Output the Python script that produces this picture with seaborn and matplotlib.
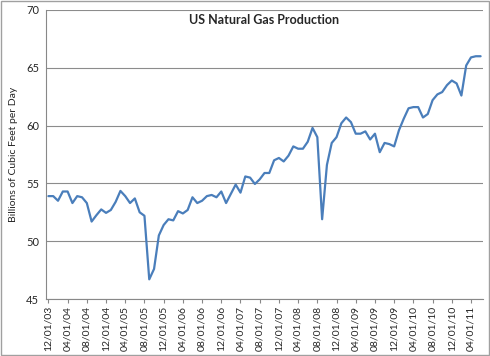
#!/usr/bin/env python3
"""
US Natural Gas Production - monthly line chart (Excel style)
"""

import numpy as np
import pandas as pd
import matplotlib
matplotlib.use("Agg")
import matplotlib.pyplot as plt
from matplotlib.patches import Rectangle
import seaborn as sns

# monthly production, 12/01/03 .. 06/01/11 (billions of cubic feet per day)
production = [
    53.9, 53.9, 53.5, 54.3, 54.3, 53.3, 53.9, 53.8, 53.3, 51.7,
    52.25, 52.75, 52.45, 52.7, 53.4, 54.35, 53.9, 53.3, 53.7, 52.5,
    52.2, 46.7, 47.6, 50.5, 51.4, 51.9, 51.8, 52.6, 52.4, 52.7,
    53.8, 53.3, 53.5, 53.9, 54.0, 53.8, 54.3, 53.3, 54.1, 54.9,
    54.2, 55.6, 55.5, 54.95, 55.35, 55.9, 55.9, 57.0, 57.2, 56.9,
    57.4, 58.2, 58.0, 58.0, 58.6, 59.8, 59.0, 51.9, 56.6, 58.5,
    59.0, 60.2, 60.7, 60.3, 59.3, 59.3, 59.5, 58.8, 59.3, 57.7,
    58.5, 58.4, 58.2, 59.6, 60.6, 61.5, 61.6, 61.6, 60.7, 61.0,
    62.2, 62.7, 62.9, 63.5, 63.9, 63.65, 62.6, 65.2, 65.9, 66.0,
    66.0,
]

tick_labels = [
    "12/01/03", "04/01/04", "08/01/04", "12/01/04", "04/01/05", "08/01/05",
    "12/01/05", "04/01/06", "08/01/06", "12/01/06", "04/01/07", "08/01/07",
    "12/01/07", "04/01/08", "08/01/08", "12/01/08", "04/01/09", "08/01/09",
    "12/01/09", "04/01/10", "08/01/10", "12/01/10", "04/01/11",
]

y_ticks = [45, 50, 55, 60, 65, 70]

df = pd.DataFrame({"month": np.arange(len(production)), "value": production})

sns.set_style("white")
plt.rcParams["font.family"] = ["Lato", "DejaVu Sans"]

W, H = 490, 356
fig = plt.figure(figsize=(W / 100, H / 100), dpi=100)
ax = fig.add_axes([46 / W, 1 - 299 / H, (483 - 46) / W, (299 - 10) / H])

sns.lineplot(data=df, x="month", y="value", ax=ax, color="#4A7EBB", linewidth=1.6)

ax.set_xlim(-0.5, len(production) - 0.5)
ax.set_ylim(45, 70)
ax.set_yticks(y_ticks)
ax.set_xticks(np.arange(0, len(production), 4)[:len(tick_labels)])
ax.set_xticklabels(tick_labels, rotation=90, fontsize=7.5)
ax.tick_params(axis="y", labelsize=8, length=3, direction="out", color="#888888", pad=2)
ax.tick_params(axis="x", length=3, direction="out", color="#888888", pad=2, bottom=True)

ax.yaxis.grid(True, color="#8c8c8c", linewidth=0.8)
ax.set_axisbelow(True)
for s in ("top", "right"):
    ax.spines[s].set_visible(False)
for s in ("left", "bottom"):
    ax.spines[s].set_color("#888888")
    ax.spines[s].set_linewidth(0.8)

ax.set_xlabel("")
ax.set_ylabel("Billions of Cubic Feet per Day", fontsize=7.5, labelpad=6)
ax.text(0.5, 0.985, "US Natural Gas Production", transform=ax.transAxes,
        ha="center", va="top", fontsize=9, fontweight="bold")

fig.patches.append(Rectangle((0.002, 0.003), 0.995, 0.993, transform=fig.transFigure,
                             fill=False, edgecolor="#a0a0a0", linewidth=1))

fig.savefig("out.png", dpi=100)
plt.close(fig)
